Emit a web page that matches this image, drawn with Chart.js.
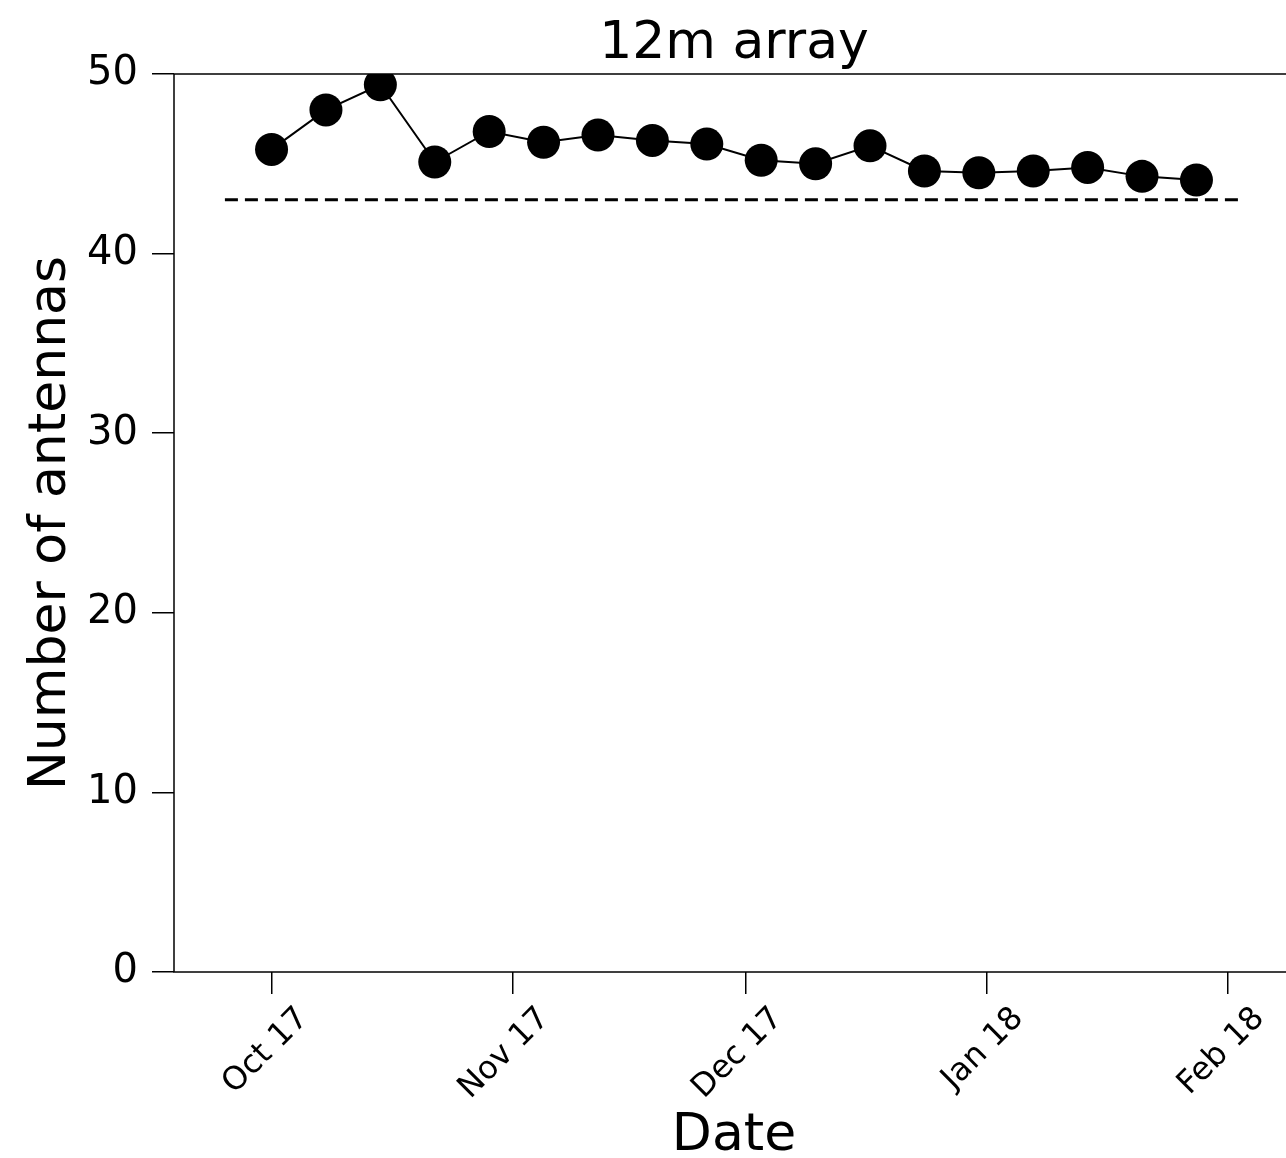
<!DOCTYPE html>
<html>
<head>
<meta charset="utf-8">
<title>12m array</title>
<script src="https://cdn.jsdelivr.net/npm/chart.js@4.4.1/dist/chart.umd.min.js"></script>
<style>
    body { margin: 0; overflow: hidden; background: #fff; }
    #wrap { width: 1330px; height: 1158px; }
</style>
</head>
<body>
<div id="wrap"><canvas id="antennaChart" width="1330" height="1158"></canvas></div>
<script>
// Weekly observation dates and number of 12m antennas
const obsDates = [
    '2017-10-01', '2017-10-08', '2017-10-15', '2017-10-22', '2017-10-29',
    '2017-11-05', '2017-11-12', '2017-11-19', '2017-11-26', '2017-12-03',
    '2017-12-10', '2017-12-17', '2017-12-24', '2017-12-31', '2018-01-07',
    '2018-01-14', '2018-01-21', '2018-01-28'
];
const antennaCounts = [
    45.8, 48.0, 49.4, 45.1, 46.8,
    46.2, 46.6, 46.3, 46.1, 45.2,
    45.0, 46.0, 44.6, 44.5, 44.6,
    44.8, 44.3, 44.1
];

// Dashed reference level
const refLevel = 43;
const refSpan = ['2017-09-25', '2018-02-03'];

// Axis ticks
const tickDates = ['2017-10-01', '2017-11-01', '2017-12-01', '2018-01-01', '2018-02-01'];
const tickLabels = ['Oct 17', 'Nov 17', 'Dec 17', 'Jan 18', 'Feb 18'];
const yTicks = [0, 10, 20, 30, 40, 50];

const ORIGIN = Date.UTC(2017, 9, 1);
function dayOf(s) {
    const p = s.split('-');
    return (Date.UTC(+p[0], p[1] - 1, +p[2]) - ORIGIN) / 86400000;
}

const tickDays = tickDates.map(dayOf);
const refStart = dayOf(refSpan[0]);
const refEnd = dayOf(refSpan[1]);
const margin = (refEnd - refStart) * 0.05;

// Box around the plotting area
const framePlugin = {
    id: 'frame',
    afterDraw(chart) {
        const a = chart.chartArea;
        const ctx = chart.ctx;
        ctx.save();
        ctx.strokeStyle = '#000';
        ctx.lineWidth = 1.5;
        ctx.strokeRect(a.left, a.top, a.right - a.left, a.bottom - a.top);
        ctx.restore();
    }
};

const font = 'DejaVu Sans';

new Chart(document.getElementById('antennaChart').getContext('2d'), {
    type: 'scatter',
    data: {
        datasets: [{
            data: obsDates.map((d, i) => ({ x: dayOf(d), y: antennaCounts[i] })),
            showLine: true,
            borderColor: '#000',
            borderWidth: 2,
            backgroundColor: '#000',
            pointRadius: 16.5,
            pointBorderWidth: 0,
            order: 1
        }, {
            data: [{ x: refStart, y: refLevel }, { x: refEnd, y: refLevel }],
            showLine: true,
            borderColor: '#000',
            borderWidth: 3,
            borderDash: [13, 7],
            pointRadius: 0,
            order: 2
        }]
    },
    options: {
        responsive: false,
        animation: false,
        layout: { padding: { right: 36 } },
        plugins: {
            legend: { display: false },
            tooltip: { enabled: false },
            title: {
                display: true,
                text: '12m array',
                fullSize: false,
                color: '#000',
                font: { family: font, size: 52, weight: 'normal', lineHeight: 1 },
                padding: { top: 18, bottom: 4 }
            }
        },
        scales: {
            x: {
                type: 'linear',
                min: refStart - margin,
                max: refEnd + margin,
                border: { display: false },
                grid: { drawOnChartArea: false, tickLength: 22, color: '#000', lineWidth: 1.5 },
                afterBuildTicks: s => { s.ticks = tickDays.map(v => ({ value: v })); },
                afterFit: s => { s.height = 186; },
                ticks: {
                    autoSkip: false,
                    minRotation: 45,
                    maxRotation: 45,
                    labelOffset: 32,
                    padding: 6,
                    color: '#000',
                    font: { family: font, size: 32 },
                    callback: v => tickLabels[tickDays.indexOf(v)]
                },
                title: {
                    display: true,
                    text: 'Date',
                    color: '#000',
                    font: { family: font, size: 52, lineHeight: 0.83 },
                    padding: { top: 0, bottom: 0 }
                }
            },
            y: {
                min: 0,
                max: 50,
                border: { display: false },
                grid: { drawOnChartArea: false, tickLength: 22, color: '#000', lineWidth: 1.5 },
                afterBuildTicks: s => { s.ticks = yTicks.map(v => ({ value: v })); },
                afterFit: s => { s.width = 174; },
                ticks: {
                    padding: 14,
                    color: '#000',
                    font: { family: font, size: 40 }
                },
                title: {
                    display: true,
                    text: 'Number of antennas',
                    color: '#000',
                    font: { family: font, size: 52, lineHeight: 1 },
                    padding: { top: 25, bottom: 0 }
                }
            }
        }
    },
    plugins: [framePlugin]
});
</script>
</body>
</html>
